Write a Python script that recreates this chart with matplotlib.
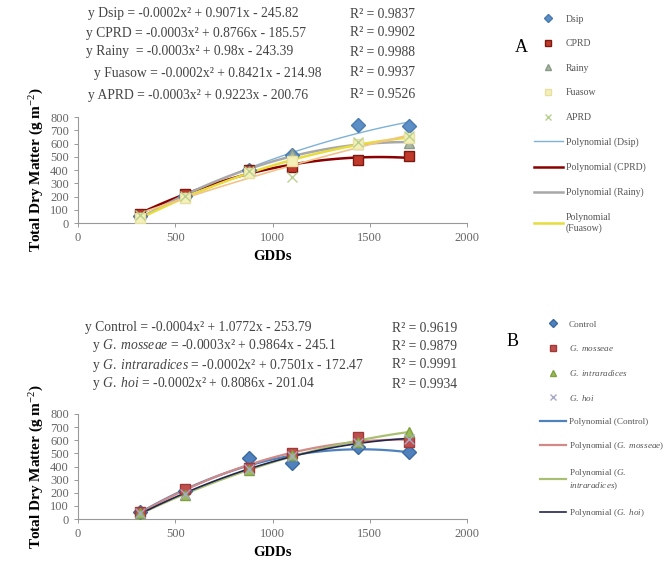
import numpy as np
import matplotlib.pyplot as plt
from matplotlib.lines import Line2D

plt.rcParams['font.family'] = ['Liberation Serif', 'DejaVu Serif']
plt.rcParams['mathtext.fontset'] = 'custom'
plt.rcParams['mathtext.rm'] = 'Liberation Serif'
plt.rcParams['mathtext.it'] = 'Liberation Serif:italic'
plt.rcParams['mathtext.bf'] = 'Liberation Serif:bold'

# data
gdd = [320, 550, 880, 1100, 1440, 1700]

# panel A
names_a = ["Dsip", "CPRD", "Rainy", "Fuasow", "APRD"]
dsip = [55, 205, 400, 510, 740, 730]
cprd = [65, 222, 398, 425, 475, 505]
rainy = [45, 198, 395, 522, 595, 605]
fuasow = [40, 185, 380, 470, 600, 640]
aprd = [60, 205, 390, 350, 610, 655]
eq_a = ["y Dsip = -0.0002x² + 0.9071x - 245.82",
        "y CPRD = -0.0003x² + 0.8766x - 185.57",
        "y Rainy  = -0.0003x² + 0.98x - 243.39",
        "y Fuasow = -0.0002x² + 0.8421x - 214.98",
        "y APRD = -0.0003x² + 0.9223x - 200.76"]
r2_a = ["R² = 0.9837", "R² = 0.9902", "R² = 0.9988", "R² = 0.9937", "R² = 0.9526"]

# panel B
names_b = ["Control", "G. mosseae", "G. intraradices", "G. hoi"]
control = [50, 210, 465, 428, 545, 508]
mosseae = [50, 228, 390, 502, 625, 585]
intrar = [45, 180, 372, 490, 588, 665]
hoi = [45, 190, 380, 480, 580, 610]
eq_b = [r"y Control = -0.0004x² + 1.0772x - 253.79",
        r"y $\it{G.\ mosseae}$ = -0.0003x² + 0.9864x - 245.1",
        r"y $\it{G.\ intraradices}$ = -0.0002x² + 0.7501x - 172.47",
        r"y $\it{G.\ hoi}$ = -0.0002x² + 0.8086x - 201.04"]
r2_b = ["R² = 0.9619", "R² = 0.9879", "R² = 0.9991", "R² = 0.9934"]

fig = plt.figure(figsize=(6.68, 5.63), dpi=100)
W, H = 668, 563


def setup(ax):
    ax.set_xlim(0, 2000)
    ax.set_ylim(0, 800)
    ax.set_xticks([0, 500, 1000, 1500, 2000])
    ax.set_yticks(range(0, 801, 100))
    for s in ["top", "right"]:
        ax.spines[s].set_visible(False)
    for s in ["left", "bottom"]:
        ax.spines[s].set_color("#999999")
        ax.spines[s].set_linewidth(0.8)
    ax.tick_params(colors="#999999", labelcolor="#666666", labelsize=9, length=3, width=0.7)
    ax.set_xlabel("GDDs", fontsize=10.5, fontweight="bold", labelpad=4)
    ax.set_ylabel(r"Total Dry Matter (g m$^{-2}$)", fontsize=11, fontweight="bold", labelpad=3)


def trend(ax, y, color, lw):
    c = np.polyfit(gdd, y, 2)
    xs = np.linspace(min(gdd), max(gdd), 100)
    ax.plot(xs, np.polyval(c, xs), color=color, lw=lw, zorder=3)


# ---- A ----
axA = fig.add_axes([78 / W, 1 - 223 / H, 389 / W, 106 / H])
setup(axA)
ser_a = [dsip, cprd, rainy, fuasow, aprd]
mk_a = [("D", "#5B8FC6", "#4A7AB0"), ("s", "#C0392B", "#7A1A10"), ("^", "#A8B8A0", "#8A9A88"),
        ("s", "#F4F0B8", "#E8E0A0"), ("x", "#C8DCA8", "#B8D090")]
for y, (m, fc, ec) in zip(ser_a, mk_a):
    axA.plot(gdd, y, ls="none", marker=m, ms=7, mfc=fc, mec=ec, mew=1, zorder=4)
trend(axA, dsip, "#7FB2D9", 1.0)
trend(axA, cprd, "#8B0000", 1.8)
trend(axA, rainy, "#A8A8A8", 1.8)
trend(axA, fuasow, "#E6DC3C", 1.8)
trend(axA, aprd, "#F2C48A", 1.2)

ys_a = [14, 33, 52, 73, 95]
xs_a = [88, 86, 86, 94, 88]
for t, r, yy, xx in zip(eq_a, r2_a, ys_a, xs_a):
    fig.text(xx / W, 1 - yy / H, t, fontsize=9.8, color="#444444", va="center")
    fig.text(350 / W, 1 - yy / H, r, fontsize=9.8, color="#444444", va="center")
fig.text(515 / W, 1 - 47 / H, "A", fontsize=13, va="center")

hA = [Line2D([], [], ls="none", marker=m, ms=4, mfc=fc, mec=ec) for m, fc, ec in mk_a]
hA += [Line2D([], [], color=c, lw=lw) for c, lw in
       [("#7FB2D9", 1.0), ("#8B0000", 1.8), ("#A8A8A8", 1.8), ("#E6DC3C", 1.8)]]
lA = names_a + ["Polynomial (Dsip)", "Polynomial (CPRD)", "Polynomial (Rainy)", "Polynomial\n(Fuasow)"]
fig.legend(hA, lA, loc="upper left", bbox_to_anchor=(525 / W, 1 - 6 / H), frameon=False,
           fontsize=7, labelspacing=1.6, handlelength=3, handletextpad=0.3, labelcolor="#555555")

# ---- B ----
axB = fig.add_axes([78 / W, 1 - 519 / H, 389 / W, 105 / H])
setup(axB)
ser_b = [control, mosseae, intrar, hoi]
mk_b = [("D", "#4F81BD", "#3A6AA0"), ("s", "#C0504D", "#A03A38"), ("^", "#9BBB59", "#80A040"),
        ("x", "#B8B8D0", "#A8A8C8")]
for y, (m, fc, ec) in zip(ser_b, mk_b):
    axB.plot(gdd, y, ls="none", marker=m, ms=7, mfc=fc, mec=ec, mew=1, zorder=4)
trend(axB, control, "#4F81BD", 1.6)
trend(axB, mosseae, "#D08A88", 1.6)
trend(axB, intrar, "#A8C070", 1.6)
trend(axB, hoi, "#23244F", 1.2)

ys_b = [328, 346, 365, 384]
xs_b = [85, 92, 92, 92]
for t, r, yy, xx in zip(eq_b, r2_b, ys_b, xs_b):
    fig.text(xx / W, 1 - yy / H, t, fontsize=9.8, color="#444444", va="center")
    fig.text(392 / W, 1 - yy / H, r, fontsize=9.8, color="#444444", va="center")
fig.text(507 / W, 1 - 341 / H, "B", fontsize=13, va="center")

hB = [Line2D([], [], ls="none", marker=m, ms=4, mfc=fc, mec=ec) for m, fc, ec in mk_b]
hB += [Line2D([], [], color=c, lw=lw) for c, lw in
       [("#4F81BD", 1.6), ("#D08A88", 1.6), ("#A8C070", 1.6), ("#23244F", 1.2)]]
lB = ["Control", r"$\it{G.\ mosseae}$", r"$\it{G.\ intraradices}$", r"$\it{G.\ hoi}$",
      "Polynomial (Control)", r"Polynomial ($\it{G.\ mosseae}$)",
      "Polynomial ($\\it{G.}$\n$\\it{intraradices}$)", r"Polynomial ($\it{G.\ hoi}$)"]
fig.legend(hB, lB, loc="upper left", bbox_to_anchor=(532 / W, 1 - 312 / H), frameon=False,
           fontsize=6.6, labelspacing=1.6, handlelength=2.8, handletextpad=0.3, labelcolor="#555555")

fig.savefig("out.png", dpi=100)
